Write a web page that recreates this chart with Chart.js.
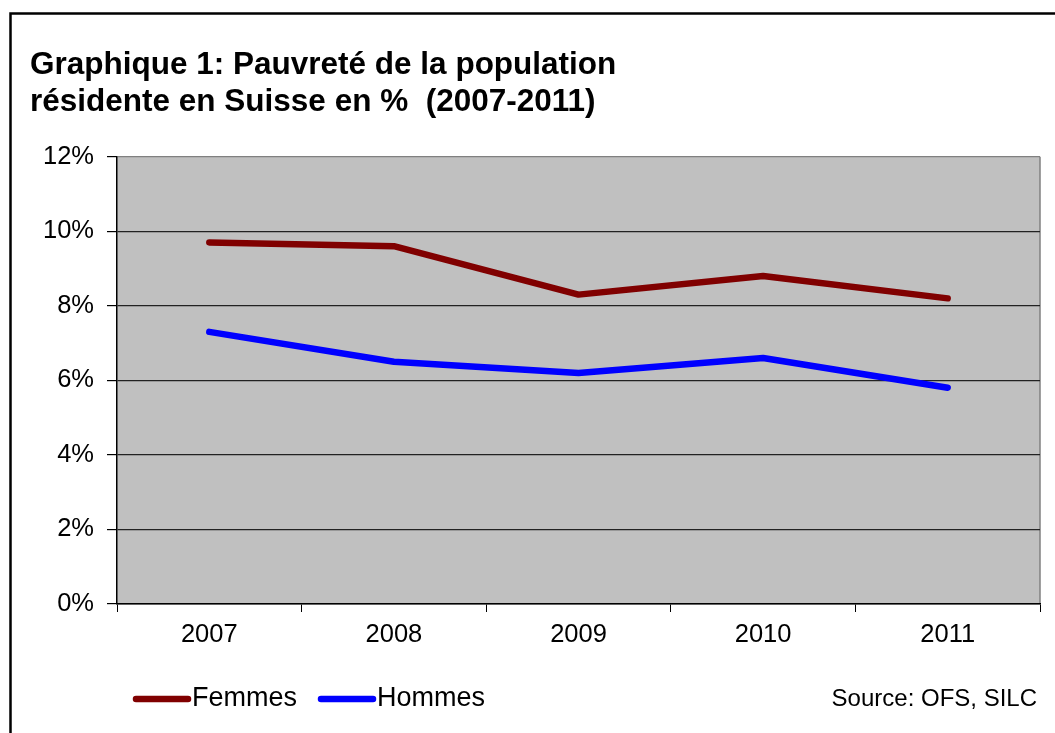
<!DOCTYPE html>
<html>
<head>
<meta charset="utf-8">
<script src="https://cdn.jsdelivr.net/npm/chart.js@4.4.0/dist/chart.umd.min.js"></script>
<style>
  html, body { margin: 0; padding: 0; background: #fff; }
  #wrap { width: 1055px; height: 733px; position: relative; }
</style>
</head>
<body>
<div id="wrap"><canvas id="chart"></canvas></div>
<script>
  // data
  const years = ['2007', '2008', '2009', '2010', '2011'];
  const femmes = [9.7, 9.6, 8.3, 8.8, 8.2];
  const hommes = [7.3, 6.5, 6.2, 6.6, 5.8];
  const yTicks = [0, 2, 4, 6, 8, 10, 12];
  const titleLines = ['Graphique 1: Pauvreté de la population', 'résidente en Suisse en %  (2007-2011)'];
  const sourceText = 'Source: OFS, SILC';

  const FONT = '"Liberation Sans", Arial, sans-serif';

  // frame, plot background, legend and source note
  const decor = {
    id: 'decor',
    beforeDraw: function (chart) {
      var ctx = chart.ctx;
      var a = chart.chartArea;
      ctx.save();
      ctx.strokeStyle = '#000';
      ctx.lineWidth = 2.5;
      ctx.strokeRect(10.5, 13.5, 1100, 800);
      ctx.fillStyle = '#c0c0c0';
      ctx.fillRect(a.left, a.top, a.right - a.left, a.bottom - a.top);
      ctx.strokeStyle = '#808080';
      ctx.lineWidth = 1.5;
      ctx.beginPath();
      ctx.moveTo(a.right, a.bottom);
      ctx.lineTo(a.right, a.top);
      ctx.stroke();
      ctx.restore();
    },
    afterDraw: function (chart) {
      var ctx = chart.ctx;
      ctx.save();
      ctx.textBaseline = 'middle';
      ctx.font = '27px ' + FONT;
      ctx.fillStyle = '#000';
      var x = 133, y = 699;
      chart.data.datasets.forEach(function (ds) {
        ctx.strokeStyle = ds.borderColor;
        ctx.lineWidth = 6.5;
        ctx.lineCap = 'round';
        ctx.beginPath();
        ctx.moveTo(x + 3, y);
        ctx.lineTo(x + 55, y);
        ctx.stroke();
        ctx.textAlign = 'left';
        ctx.fillText(ds.label, x + 59, y);
        x += 59 + ctx.measureText(ds.label).width + 21;
      });
      ctx.font = '24px ' + FONT;
      ctx.textAlign = 'right';
      ctx.fillText(sourceText, 1037, y);
      ctx.restore();
    }
  };

  new Chart(document.getElementById('chart'), {
    type: 'line',
    data: {
      labels: years,
      datasets: [{
        label: 'Femmes',
        data: femmes,
        borderColor: '#800000',
        borderWidth: 6.5,
        borderCapStyle: 'round',
        borderJoinStyle: 'round',
        pointRadius: 0,
        tension: 0
      }, {
        label: 'Hommes',
        data: hommes,
        borderColor: '#0000ff',
        borderWidth: 6.5,
        borderCapStyle: 'round',
        borderJoinStyle: 'round',
        pointRadius: 0,
        tension: 0
      }]
    },
    options: {
      responsive: true,
      maintainAspectRatio: false,
      animation: false,
      layout: { padding: { left: 30, right: 15, top: 0, bottom: 0 } },
      plugins: {
        legend: { display: false },
        tooltip: { enabled: false },
        title: {
          display: true,
          text: titleLines,
          align: 'start',
          color: '#000',
          font: { family: FONT, size: 31.5, weight: 'bold', lineHeight: 1.17 },
          padding: { top: 47, bottom: 36 }
        }
      },
      scales: {
        x: {
          offset: true,
          grid: { offset: true, drawOnChartArea: false, drawTicks: true, tickLength: 8, color: '#000', tickColor: '#000' },
          border: { display: true, color: '#000', width: 1.5 },
          ticks: { color: '#000', padding: 8, font: { family: FONT, size: 25.5 } },
          afterFit: function (scale) { scale.height = 129; }
        },
        y: {
          min: 0,
          max: 12,
          afterBuildTicks: function (scale) {
            scale.ticks = yTicks.map(function (v) { return { value: v }; });
          },
          grid: {
            color: function (c) { return c.tick && c.tick.value === 12 ? '#808080' : '#222'; },
            tickColor: '#000',
            tickLength: 10,
            lineWidth: 1.2
          },
          border: { display: true, color: '#000', width: 1.5 },
          ticks: {
            color: '#000',
            padding: 13,
            font: { family: FONT, size: 25.5 },
            callback: function (v) { return v + '%'; }
          },
          afterFit: function (scale) { scale.width = 87; }
        }
      }
    },
    plugins: [decor]
  });
</script>
</body>
</html>
